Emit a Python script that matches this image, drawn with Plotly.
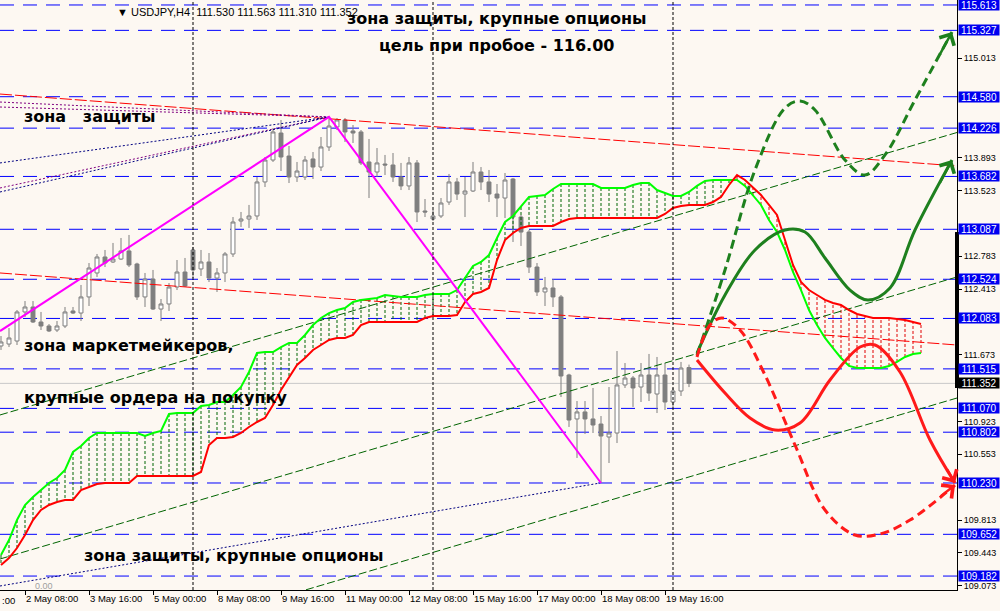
import plotly.graph_objects as go
import numpy as np

# ---------------- candles (index 0 = 2 May 08:00, 4H bars) ----------------
bar_idx = list(range(-3, 84))
opens = [111.773, 111.795, 111.829, 112.156, 112.212, 112.043, 111.998, 111.953, 111.998, 112.167,
         112.144, 112.325, 112.595, 112.775, 112.719, 112.752, 112.843, 112.696, 112.325, 112.527,
         112.189, 112.246, 112.437, 112.606, 112.854, 112.640, 112.719, 112.538, 112.595, 112.809,
         113.180, 113.203, 113.237, 113.620, 113.867, 114.171, 113.912, 113.676, 113.676, 113.879,
         113.788, 114.014, 114.239, 114.318, 114.194, 114.183, 113.845, 113.732, 113.822, 113.811,
         113.676, 113.575, 113.834, 113.293, 113.203, 113.237, 113.394, 113.620, 113.484, 113.518,
         113.732, 113.620, 113.484, 113.439, 113.653, 113.225, 113.056, 112.662, 112.381, 112.426,
         112.325, 111.446, 110.951, 111.030, 110.951, 110.894, 110.748, 110.793, 111.334, 111.412,
         111.311, 111.446, 111.232, 111.446, 111.142, 111.266, 111.530]
highs = [111.885, 111.975, 112.178, 112.279, 112.279, 112.156, 112.020, 112.054, 112.212, 112.212,
         112.460, 112.707, 112.809, 112.854, 112.933, 112.989, 113.023, 112.710, 112.595, 112.629,
         112.302, 112.482, 112.741, 112.764, 112.888, 112.854, 112.820, 112.651, 112.831, 113.225,
         113.282, 113.361, 113.676, 113.901, 114.228, 114.318, 114.025, 113.845, 113.912, 113.957,
         114.126, 114.352, 114.340, 114.340, 114.261, 114.205, 114.104, 114.002, 113.924, 113.946,
         113.834, 113.901, 113.867, 113.428, 113.304, 113.439, 113.710, 113.665, 113.676, 113.845,
         113.788, 113.755, 113.597, 113.721, 113.665, 113.248, 113.079, 112.707, 112.550, 112.527,
         112.347, 111.460, 111.153, 111.153, 111.300, 110.984, 111.311, 111.716, 111.581, 111.435,
         111.581, 111.683, 111.649, 111.581, 111.300, 111.593, 111.563]
lows = [111.728, 111.761, 111.784, 112.099, 112.032, 111.953, 111.930, 111.930, 111.975, 112.133,
        112.054, 112.223, 112.550, 112.662, 112.707, 112.741, 112.662, 112.291, 112.212, 112.178,
        112.054, 112.167, 112.403, 112.437, 112.538, 112.561, 112.493, 112.381, 112.493, 112.775,
        113.113, 113.102, 113.192, 113.563, 113.845, 113.743, 113.608, 113.620, 113.642, 113.653,
        113.743, 113.969, 114.205, 114.070, 114.059, 113.811, 113.439, 113.676, 113.698, 113.620,
        113.529, 113.529, 113.169, 113.225, 113.180, 113.214, 113.361, 113.417, 113.225, 113.507,
        113.529, 113.394, 113.225, 113.214, 112.944, 112.899, 112.595, 112.336, 112.223, 112.212,
        111.198, 110.861, 110.512, 110.782, 110.793, 110.230, 110.455, 110.680, 111.300, 111.086,
        111.142, 111.153, 111.018, 111.052, 111.086, 111.210, 111.310]
closes = [111.818, 111.863, 112.156, 112.212, 112.043, 111.998, 111.942, 111.998, 112.156, 112.144,
          112.325, 112.651, 112.775, 112.707, 112.752, 112.843, 112.685, 112.325, 112.527, 112.189,
          112.246, 112.437, 112.606, 112.448, 112.629, 112.719, 112.538, 112.595, 112.809, 113.169,
          113.203, 113.237, 113.620, 113.867, 114.183, 113.901, 113.676, 113.743, 113.867, 113.788,
          114.014, 114.250, 114.318, 114.183, 114.171, 113.834, 113.732, 113.834, 113.811, 113.676,
          113.575, 113.834, 113.282, 113.282, 113.237, 113.383, 113.620, 113.484, 113.518, 113.732,
          113.620, 113.484, 113.439, 113.642, 113.225, 113.056, 112.662, 112.381, 112.426, 112.325,
          111.435, 110.939, 111.030, 110.951, 110.883, 110.759, 110.793, 111.334, 111.412, 111.300,
          111.446, 111.243, 111.446, 111.142, 111.266, 111.525, 111.352]

# ---------------- Ichimoku cloud (shifted forward) ----------------
cloud_idx = list(range(-3, 113))
span_a = [109.419, 109.588, 109.813, 109.982, 110.072, 110.151, 110.230, 110.286, 110.376, 110.579,
          110.647, 110.737, 110.793, 110.793, 110.793, 110.793, 110.793, 110.793, 110.759, 110.793,
          110.816, 111.007, 111.018, 111.018, 111.018, 111.097, 111.108, 111.142, 111.142, 111.221,
          111.311, 111.480, 111.694, 111.705, 111.705, 111.761, 111.807, 111.807, 111.897, 112.009,
          112.088, 112.144, 112.178, 112.201, 112.268, 112.291, 112.302, 112.313, 112.347, 112.336,
          112.325, 112.325, 112.325, 112.347, 112.358, 112.358, 112.358, 112.403, 112.538, 112.674,
          112.719, 112.797, 112.989, 113.169, 113.237, 113.338, 113.451, 113.462, 113.473, 113.541,
          113.597, 113.597, 113.597, 113.597, 113.597, 113.552, 113.552, 113.552, 113.552, 113.586,
          113.608, 113.608, 113.529, 113.496, 113.462, 113.462, 113.507, 113.575, 113.631, 113.642,
          113.642, 113.642, 113.642, 113.575, 113.473, 113.361, 113.192, 113.056, 112.854, 112.606,
          112.403, 112.178, 112.009, 111.863, 111.750, 111.638, 111.548, 111.525, 111.525, 111.525,
          111.525, 111.548, 111.593, 111.649, 111.683, 111.694]
span_b = [109.307, 109.385, 109.498, 109.644, 109.813, 109.926, 109.982, 110.016, 110.039, 110.039,
          110.151, 110.185, 110.219, 110.230, 110.230, 110.230, 110.230, 110.309, 110.309, 110.309,
          110.309, 110.309, 110.309, 110.309, 110.309, 110.354, 110.658, 110.737, 110.737, 110.748,
          110.793, 110.861, 110.917, 110.962, 111.108, 111.277, 111.412, 111.559, 111.638, 111.728,
          111.784, 111.840, 111.863, 111.863, 111.897, 112.009, 112.043, 112.043, 112.043, 112.043,
          112.043, 112.043, 112.043, 112.088, 112.111, 112.111, 112.111, 112.122, 112.268, 112.358,
          112.381, 112.426, 112.741, 112.966, 113.045, 113.102, 113.124, 113.124, 113.124, 113.124,
          113.169, 113.203, 113.214, 113.214, 113.214, 113.214, 113.214, 113.214, 113.214, 113.214,
          113.214, 113.214, 113.214, 113.259, 113.327, 113.349, 113.361, 113.361, 113.361, 113.394,
          113.451, 113.586, 113.698, 113.642, 113.552, 113.473, 113.361, 113.248, 112.966, 112.685,
          112.493, 112.403, 112.347, 112.291, 112.257, 112.234, 112.178, 112.133, 112.111, 112.088,
          112.088, 112.088, 112.077, 112.066, 112.043, 112.020]

# ---------------- horizontal levels ----------------
levels = [115.613, 115.327, 114.580, 114.226, 113.682, 113.087, 112.524, 112.083,
          111.515, 111.070, 110.802, 110.230, 109.652, 109.182]
bid_price = 111.352

# ---------------- trend lines (index, price) pairs ----------------
red_lines = [([-3.125, 116.5], [114.610, 113.800]),
             ([-3.125, 116.5], [112.595, 111.784])]
green_channel = [([-3.125, 116.5], [110.996, 114.177]),
                 ([-3.125, 116.5], [109.374, 112.550]),
                 ([-3.125, 116.5], [108.012, 111.187])]
purple_fan = [([-3.125, 38], [114.520, 114.352]),
              ([-3.125, 38], [114.464, 114.352]),
              ([-3.125, 38], [113.552, 114.352])]
navy_fan = [([-3.125, 38], [113.834, 114.352]),
            ([-3.125, 38], [113.507, 114.352]),
            ([-3.125, 71.9], [109.070, 110.230])]
zigzag_idx = [-3.125, 38, 72]
zigzag_price = [111.941, 114.352, 110.230]
separators = [21, 51, 81]

# ---------------- forecast paths ----------------
fc_green_dash_x = [84, 87.5, 91.25, 95, 96.875, 98.75, 102.5, 105, 107.5, 111.25, 115.875]
fc_green_dash_y = [111.671, 112.629, 113.755, 114.453, 114.532, 114.430, 113.867, 113.698, 113.924, 114.543, 115.309]
fc_green_x = [84, 87.5, 91.25, 95, 97.5, 100, 103.125, 105.375, 108.125, 111.25, 115.875]
fc_green_y = [111.694, 112.347, 112.854, 113.079, 113.056, 112.764, 112.403, 112.291, 112.426, 113.079, 113.867]
fc_red_dash_x = [84, 85.625, 87.125, 89.375, 92.5, 96.25, 100, 103.75, 106.875, 110.625, 116.25]
fc_red_dash_y = [111.649, 112.009, 112.088, 111.953, 111.446, 110.658, 109.926, 109.644, 109.656, 109.813, 110.207]
fc_red_x = [84, 87.5, 90.625, 93.75, 96.875, 100.625, 104.375, 106.25, 109.375, 113.125, 116.25]
fc_red_y = [111.615, 111.243, 110.962, 110.827, 110.906, 111.390, 111.761, 111.784, 111.480, 110.714, 110.230]

# ---------------- axis labels ----------------
x_tickvals = [0, 8, 16, 24, 32, 40, 48, 56, 64, 72, 80]
x_ticktext = ["2 May 08:00", "3 May 16:00", "5 May 00:00", "8 May 08:00", "9 May 16:00",
              "11 May 00:00", "12 May 08:00", "15 May 16:00", "17 May 00:00", "18 May 08:00",
              "19 May 16:00"]
y_tickvals = [109.073, 109.443, 109.813, 110.553, 110.923, 111.673,
              112.413, 112.783, 113.523, 113.893, 115.013]

BG = "#FDF8F2"
X_RANGE = [-3.125, 116.5]
Y_RANGE = [109.025, 115.669]

fig = go.Figure()

# cloud hatching
gx, gy, rx, ry = [], [], [], []
for i, a, b in zip(cloud_idx, span_a, span_b):
    if a >= b:
        gx += [i, i, None]; gy += [a, b, None]
    else:
        rx += [i, i, None]; ry += [a, b, None]
fig.add_trace(go.Scatter(x=gx, y=gy, mode="lines", line=dict(color="#006400", width=1, dash="3px,2px")))
fig.add_trace(go.Scatter(x=rx, y=ry, mode="lines", line=dict(color="#E00000", width=1, dash="3px,2px")))

# trend lines
for xs, ys in red_lines:
    fig.add_trace(go.Scatter(x=xs, y=ys, mode="lines", line=dict(color="#FF0000", width=1, dash="12px,3px")))
for xs, ys in green_channel:
    fig.add_trace(go.Scatter(x=xs, y=ys, mode="lines", line=dict(color="#006400", width=1, dash="8px,3px")))
for xs, ys in purple_fan:
    fig.add_trace(go.Scatter(x=xs, y=ys, mode="lines", line=dict(color="#800080", width=1, dash="2px,2px")))
for xs, ys in navy_fan:
    fig.add_trace(go.Scatter(x=xs, y=ys, mode="lines", line=dict(color="#000080", width=1, dash="2px,2px")))

# ichimoku lines
fig.add_trace(go.Scatter(x=cloud_idx, y=span_a, mode="lines", line=dict(color="#00FF00", width=2)))
fig.add_trace(go.Scatter(x=cloud_idx, y=span_b, mode="lines", line=dict(color="#FF0000", width=2)))

# candles
fig.add_trace(go.Candlestick(
    x=bar_idx, open=opens, high=highs, low=lows, close=closes,
    increasing=dict(fillcolor="#FFFFFF", line=dict(color="#7F7F7F", width=1)),
    decreasing=dict(fillcolor="#7F7F7F", line=dict(color="#7F7F7F", width=1)),
    whiskerwidth=0, hoverinfo="skip"))

# zigzag
fig.add_trace(go.Scatter(x=zigzag_idx, y=zigzag_price, mode="lines", line=dict(color="#FF00FF", width=2)))

# forecasts
fig.add_trace(go.Scatter(x=fc_green_dash_x, y=fc_green_dash_y, mode="lines",
                         line=dict(color="#1E801E", width=3, dash="9px,5px", shape="spline", smoothing=1.0)))
fig.add_trace(go.Scatter(x=fc_green_x, y=fc_green_y, mode="lines",
                         line=dict(color="#1E801E", width=3, shape="spline", smoothing=1.0)))
fig.add_trace(go.Scatter(x=fc_red_dash_x, y=fc_red_dash_y, mode="lines",
                         line=dict(color="#FF1A1A", width=3, dash="9px,5px", shape="spline", smoothing=1.0)))
fig.add_trace(go.Scatter(x=fc_red_x, y=fc_red_y, mode="lines",
                         line=dict(color="#FF1A1A", width=3, shape="spline", smoothing=1.0)))

annotations = []
for xs, ys, col in [(fc_green_dash_x, fc_green_dash_y, "#1E801E"), (fc_green_x, fc_green_y, "#1E801E"),
                    (fc_red_dash_x, fc_red_dash_y, "#FF1A1A"), (fc_red_x, fc_red_y, "#FF1A1A")]:
    ax = xs[-1] - 0.35 * (xs[-1] - xs[-2])
    ay = ys[-1] - 0.35 * (ys[-1] - ys[-2])
    annotations.append(dict(x=xs[-1], y=ys[-1], ax=ax, ay=ay, xref="x", yref="y", axref="x", ayref="y",
                            text="", showarrow=True, arrowhead=4, arrowsize=1.3, arrowwidth=2.5,
                            arrowcolor=col))

shapes = []
for lv in levels:
    shapes.append(dict(type="line", xref="paper", x0=0, x1=1, yref="y", y0=lv, y1=lv,
                       line=dict(color="#0000FF", width=1, dash="14px,9px"), layer="below"))
shapes.append(dict(type="line", xref="paper", x0=0, x1=1, yref="y", y0=bid_price, y1=bid_price,
                   line=dict(color="#C8C8C8", width=1), layer="below"))
for s in separators:
    shapes.append(dict(type="line", xref="x", x0=s, x1=s, yref="paper", y0=0, y1=1,
                       line=dict(color="#000000", width=1, dash="3px,2px"), layer="above"))
shapes.append(dict(type="line", xref="paper", x0=1, x1=1, yref="y", y0=111.300, y1=113.056,
                   line=dict(color="#000000", width=4)))

# right axis highlighted price labels
for lv in levels:
    annotations.append(dict(x=1, xref="paper", y=lv, yref="y", xanchor="left", yanchor="middle",
                            xshift=1, text=f"{lv:.3f}", showarrow=False, bgcolor="#0000F0",
                            font=dict(color="white", size=10, family="Liberation Sans"),
                            width=40, height=10, borderpad=0, align="center"))
annotations.append(dict(x=1, xref="paper", y=bid_price, yref="y", xanchor="left", yanchor="middle",
                        xshift=1, text=f"{bid_price:.3f}", showarrow=False, bgcolor="#000000",
                        font=dict(color="white", size=10, family="Liberation Sans"),
                        width=40, height=10, borderpad=0, align="center"))

# texts on chart
TXT = dict(family="DejaVu Sans", size=16, color="black")
annotations += [
    dict(x=58.9, y=115.466, xref="x", yref="y", text="<b>зона защиты, крупные опционы</b>", showarrow=False, font=TXT),
    dict(x=58.9, y=115.162, xref="x", yref="y", text="<b>цель при пробое - 116.00</b>", showarrow=False, font=TXT),
    dict(x=-0.4, y=114.352, xref="x", yref="y", xanchor="left", text="<b>зона &nbsp; защиты</b>", showarrow=False, font=TXT),
    dict(x=-0.4, y=111.784, xref="x", yref="y", xanchor="left", text="<b>зона маркетмейкеров,</b>", showarrow=False, font=TXT),
    dict(x=-0.4, y=111.198, xref="x", yref="y", xanchor="left", text="<b>крупные ордера на покупку</b>", showarrow=False, font=TXT),
    dict(x=7.1, y=109.419, xref="x", yref="y", xanchor="left", text="<b>зона защиты, крупные опционы</b>", showarrow=False, font=TXT),
    dict(x=0.12, y=1, xref="paper", yref="paper", xanchor="left", yanchor="top", yshift=-4,
         text="▼ USDJPY,H4  111.530 111.563 111.310 111.352", showarrow=False,
         font=dict(family="Liberation Sans", size=11, color="black")),
    dict(x=0.034, y=109.07, xref="paper", yref="y", xanchor="left", text="0.00", showarrow=False,
         font=dict(family="Liberation Sans", size=9, color="#A0A0A0")),
    dict(x=0, y=0, xref="paper", yref="paper", xanchor="left", yanchor="top", yshift=-3,
         text=":00", showarrow=False, font=dict(family="Liberation Sans", size=9.5, color="black")),
]

fig.update_layout(
    width=1000, height=611, margin=dict(l=0, r=43, t=0, b=21),
    paper_bgcolor=BG, plot_bgcolor=BG, showlegend=False, hovermode=False,
    shapes=shapes, annotations=annotations,
    xaxis=dict(range=X_RANGE, showgrid=False, zeroline=False, showline=True, linecolor="black",
               linewidth=1, ticks="outside", ticklen=4, tickcolor="black", tickangle=0,
               tickvals=x_tickvals, ticktext=x_ticktext, ticklabelposition="outside right",
               tickfont=dict(family="Liberation Sans", size=9.5, color="black"),
               rangeslider=dict(visible=False), automargin=False, fixedrange=True),
    yaxis=dict(range=Y_RANGE, side="right", showgrid=False, zeroline=False, showline=True,
               linecolor="black", linewidth=1, ticks="outside", ticklen=4, tickcolor="black",
               tickvals=y_tickvals, ticktext=[f"{v:.3f}" for v in y_tickvals],
               tickfont=dict(family="Liberation Sans", size=9, color="black"),
               automargin=False, fixedrange=True),
)

fig.write_html("out.html", config={"displayModeBar": False},
               post_script="document.body.style.margin='0px';document.body.style.padding='0px';"
                           "document.body.style.background='" + BG + "';")
